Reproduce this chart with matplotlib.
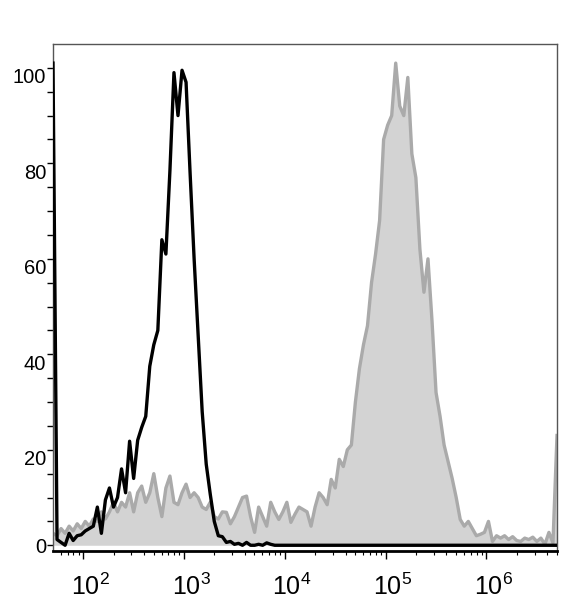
import numpy as np
import matplotlib
matplotlib.use("Agg")
import matplotlib.pyplot as plt
import matplotlib.transforms as mtransforms
from matplotlib.ticker import FixedLocator, NullFormatter

plt.rcParams['font.family'] = ['Liberation Sans', 'DejaVu Sans']
plt.rcParams['mathtext.fontset'] = 'custom'
plt.rcParams['mathtext.rm'] = 'Liberation Sans'
plt.rcParams['mathtext.it'] = 'Liberation Sans'

# channel centres, log10 of fluorescence intensity
log_lo, log_hi = 1.70, 6.70
n_bins = 126
channels = np.logspace(log_lo, log_hi, n_bins)

# unstained control (black line)
black_counts = [
    101, 1.2, 0.6, 0, 2.5, 1, 2, 2.2, 3, 3.5,
    4, 8, 2.5, 9.5, 12, 8, 10, 16, 11, 21.8,
    14, 22, 24.7, 27, 37.5, 42, 45, 64, 61, 78.5,
    99, 90, 99.5, 97, 78, 60, 44, 28, 17, 10.7,
    5, 2, 1.8, 0.6, 0.8, 0.2, 0.4, 0, 0.6, 0,
    0, 0.2, 0, 0.5, 0.2, 0,
]
black_counts = black_counts + [0] * (n_bins - len(black_counts))

# stained sample (grey filled)
grey_counts = [
    2.5, 2, 3.5, 2.5, 4, 3, 4.5, 3.5, 5, 4,
    5.5, 5, 7, 5.5, 7, 9, 7, 9, 8, 11,
    7, 11, 12.4, 9, 11, 15, 10, 6, 12, 14.5,
    9, 8.5, 11, 12.8, 10, 11, 10, 8, 7.5, 9,
    6, 5.5, 7, 6.9, 4.5, 6, 8, 10, 10.3, 6,
    2.7, 8, 6, 4, 9, 7, 5.4, 7, 9, 4.8,
    6.5, 8, 7.5, 7, 4, 8, 11, 10, 8.5, 13.8,
    12, 18, 16.5, 20, 21, 30, 37, 42, 46, 55,
    61, 68, 85, 88, 90, 101, 92, 90, 98, 82,
    77, 62, 53, 60, 47, 32, 27, 21, 17.5, 14,
    10, 5.4, 4, 5, 3.5, 2, 2.3, 2.7, 5, 0.8,
    2, 1.5, 2, 1.2, 1.8, 1, 0.8, 1.5, 1.2, 1.7,
    0.8, 1.5, 0.2, 2.7, 0.5, 23,
]

fig = plt.figure(figsize=(5.74, 6.0), dpi=100)
ax = fig.add_axes([53/574, 49/600, 504/574, 507/600])

ax.fill_between(channels, 0, grey_counts, color='#d3d3d3', lw=0, zorder=1)
ax.plot(channels, grey_counts, color='#aaaaaa', lw=2.4, zorder=2)
ax.plot(channels, black_counts, color='black', lw=2.4, zorder=3)

ax.set_xscale('log')
ax.set_xlim(10**log_lo, 10**log_hi)
ax.set_ylim(-1.2, 105)

# x ticks
ax.xaxis.set_major_locator(FixedLocator([1e2, 1e3, 1e4, 1e5, 1e6]))
ax.set_xticklabels(['$10^{2}$', '$10^{3}$', '$10^{4}$', '$10^{5}$', '$10^{6}$'])
minors = [m * 10**d for d in range(1, 7) for m in range(2, 10)]
ax.xaxis.set_minor_locator(FixedLocator(minors))
ax.xaxis.set_minor_formatter(NullFormatter())
ax.tick_params(axis='x', which='major', length=6, width=1, labelsize=18, pad=10)
ax.tick_params(axis='x', which='minor', length=3, width=0.8)
shift = mtransforms.ScaledTranslation(7/100, 0, fig.dpi_scale_trans)
for lab in ax.get_xticklabels():
    lab.set_transform(lab.get_transform() + shift)

# y ticks: every 5, labels every 20
ax.yaxis.set_major_locator(FixedLocator(np.arange(0, 101, 5)))
ax.set_yticklabels([str(v) if v % 20 == 0 else '' for v in range(0, 101, 5)])
ax.tick_params(axis='y', which='major', length=4, width=1, labelsize=14.5, pad=1)
down = mtransforms.ScaledTranslation(0, -8/100, fig.dpi_scale_trans)
for lab in ax.get_yticklabels():
    if lab.get_text() not in ('', '0'):
        lab.set_transform(lab.get_transform() + down)

for side in ('top', 'right', 'left'):
    ax.spines[side].set_color('#555555')
    ax.spines[side].set_linewidth(1)
ax.spines['bottom'].set_color('black')
ax.spines['bottom'].set_linewidth(2)

fig.savefig('out.png', dpi=100)
